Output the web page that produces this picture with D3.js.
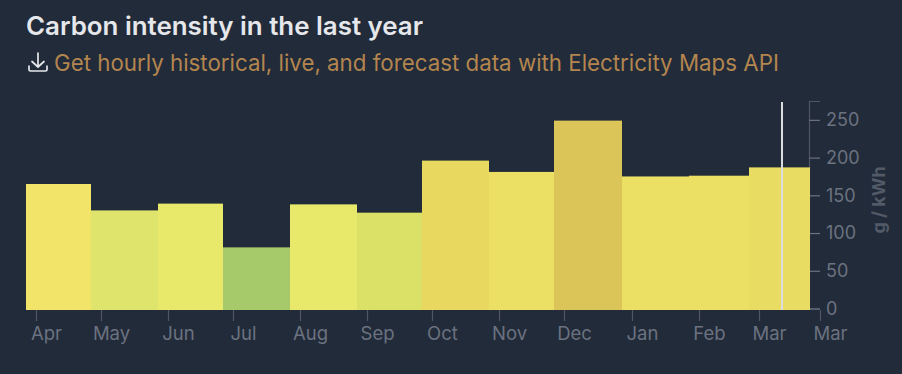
<!DOCTYPE html>
<html>
<head>
<meta charset="utf-8">
<script src="https://cdn.jsdelivr.net/npm/d3@7"></script>
<style>
    html, body { margin: 0; padding: 0; background: #222b39; }
    svg { display: block; font-family: Inter, sans-serif; }
</style>
</head>
<body>
<svg width="902" height="374"></svg>
<script>
// Month starts, the last one closes the Mar bar
var monthStarts = ['2024-04-01', '2024-05-01', '2024-06-01', '2024-07-01', '2024-08-01', '2024-09-01',
    '2024-10-01', '2024-11-01', '2024-12-01', '2025-01-01', '2025-02-01', '2025-03-01', '2025-03-29'];
var tickLabels = ['Apr', 'May', 'Jun', 'Jul', 'Aug', 'Sep', 'Oct', 'Nov', 'Dec', 'Jan', 'Feb', 'Mar', 'Mar'];

// g / kWh per month
var intensity = [165, 130, 139, 81, 138, 127, 196, 181, 249, 175, 176, 187];
var barColors = ['#f1e468', '#dfe46c', '#e8e86b', '#a6ca6a', '#e8e86b', '#dbe067',
    '#e8d85f', '#ebdf64', '#dcc558', '#ece064', '#ece064', '#e9dc62'];
var yTicks = [0, 50, 100, 150, 200, 250];
var hoverDate = '2025-03-16';

var svg = d3.select('svg');
var parseDate = d3.utcParse('%Y-%m-%d');
var dates = monthStarts.map(parseDate);

// Bars sit 10px left of their ticks
var barShift = 10;

var xScale = d3.scaleUtc()
    .domain([dates[0], dates[dates.length - 1]])
    .rangeRound([36, 820]);

var yScale = d3.scaleLinear()
    .domain([0, 275])
    .range([308.5, 101]);

// X axis
var xAxis = d3.axisBottom(xScale)
    .tickValues(dates)
    .tickSize(11)
    .tickPadding(6)
    .tickFormat(function(d, i) { return tickLabels[i]; });

var xAxisG = svg.append('g')
    .attr('transform', 'translate(0,310)')
    .call(xAxis);

xAxisG.select('.domain').remove();
xAxisG.selectAll('line').attr('stroke', '#4f5766').attr('stroke-width', 1.2);
xAxisG.selectAll('text')
    .attr('x', barShift)
    .attr('fill', '#6b7280')
    .attr('font-family', 'Inter, sans-serif')
    .attr('font-size', 18.5);

// Y axis, drawn before the bars so they cover its lower part
var yAxis = d3.axisRight(yScale)
    .tickValues(yTicks)
    .tickSize(11)
    .tickPadding(6);

var yAxisG = svg.append('g')
    .attr('transform', 'translate(809,0)')
    .call(yAxis);

yAxisG.select('.domain').attr('stroke', '#4f5766').attr('stroke-width', 1.2);
yAxisG.selectAll('line').attr('stroke', '#6b7280').attr('stroke-width', 1.2);
yAxisG.selectAll('text')
    .attr('fill', '#6b7280')
    .attr('font-family', 'Inter, sans-serif')
    .attr('font-size', 18);

// Bars
svg.append('g').selectAll('rect')
    .data(intensity)
    .enter()
    .append('rect')
    .attr('x', function(d, i) { return xScale(dates[i]) - barShift; })
    .attr('width', function(d, i) { return xScale(dates[i + 1]) - xScale(dates[i]); })
    .attr('y', function(d) { return yScale(d); })
    .attr('height', function(d) { return 310 - yScale(d); })
    .attr('fill', function(d, i) { return barColors[i]; });

// Marker for the current hour
svg.append('line')
    .attr('x1', xScale(parseDate(hoverDate)) - barShift)
    .attr('x2', xScale(parseDate(hoverDate)) - barShift)
    .attr('y1', 102)
    .attr('y2', 310)
    .attr('stroke', '#dcdcdc')
    .attr('stroke-width', 2);

svg.append('text')
    .attr('transform', 'translate(885,200) rotate(-90)')
    .attr('text-anchor', 'middle')
    .attr('fill', '#525a68')
    .attr('font-size', 18)
    .attr('font-weight', 700)
    .text('g / kWh');

// Header
svg.append('text')
    .attr('x', 26)
    .attr('y', 35)
    .attr('fill', '#e5e7eb')
    .attr('font-size', 25.9)
    .attr('font-weight', 600)
    .text('Carbon intensity in the last year');

svg.append('text')
    .attr('x', 54)
    .attr('y', 70.5)
    .attr('fill', '#b3854f')
    .attr('font-size', 22.3)
    .text('Get hourly historical, live, and forecast data with Electricity Maps API');

// Download icon
var icon = svg.append('g')
    .attr('fill', 'none')
    .attr('stroke', '#e5e7eb')
    .attr('stroke-width', 1.7)
    .attr('stroke-linecap', 'round')
    .attr('stroke-linejoin', 'round');
icon.append('path').attr('d', 'M38 53V67M32 61.5L38 67L44 61.5');
icon.append('path').attr('d', 'M29 66V69.5Q29 71 30.5 71H45.5Q47 71 47 69.5V66');
</script>
</body>
</html>
